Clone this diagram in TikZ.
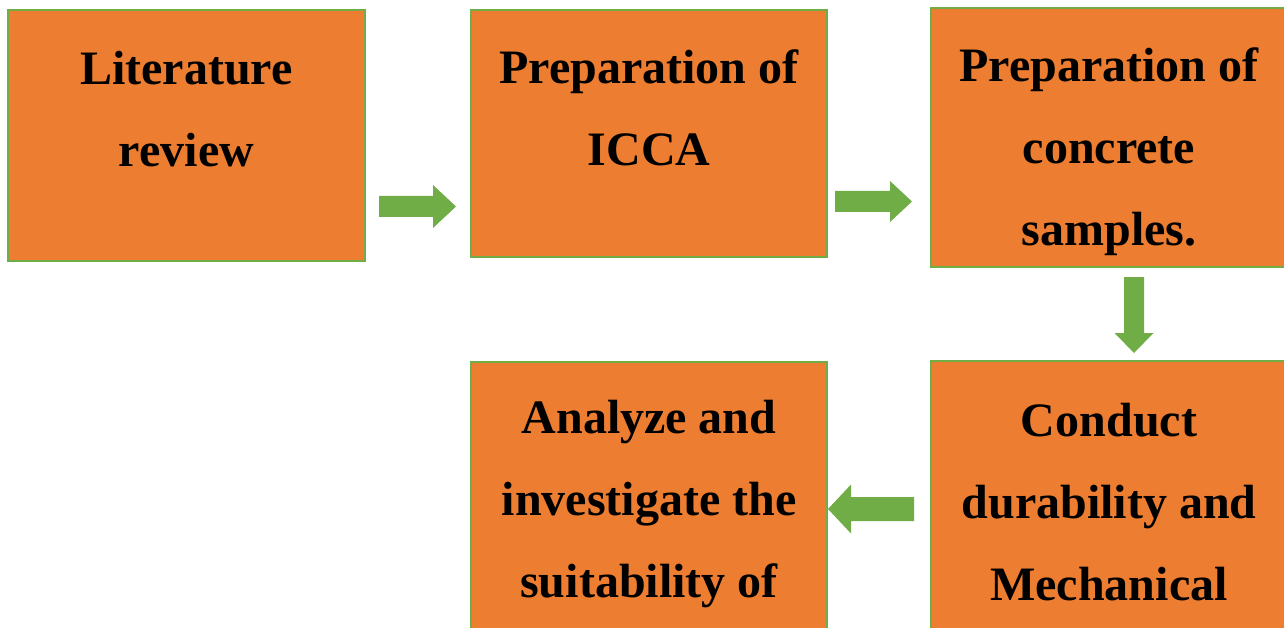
\documentclass[tikz,border=0pt]{standalone}
\usepackage{fontspec}
\setmainfont{Liberation Serif}
\usetikzlibrary{positioning}

\definecolor{stageorange}{HTML}{ED7D31}
\definecolor{stagegreen}{HTML}{70AD47}

\tikzset{
    stage/.style={rectangle, fill=stageorange, draw=stagegreen, line width=1.5pt, inner sep=0pt},
    stagetext/.style={align=center, inner sep=0pt, anchor=north, font=\fontsize{48}{82}\selectfont\bfseries}
}

\begin{document}
\begin{tikzpicture}[x=1pt,y=-1pt]
        \clip (0,0) rectangle (1284,628);
        \fill[white] (0,0) rectangle (1284,628);
        % boxes
        \node[stage, minimum width=357pt, minimum height=251pt] (lit) at (186.5,135.5) {};
        \node[stage, minimum width=356pt, minimum height=247pt] (icca) at (649,133.5) {};
        \node[stage, minimum width=356pt, minimum height=259pt] (samples) at (1109,137.5) {};
        \node[stage, minimum width=356pt, minimum height=290pt] (tests) at (1109,506) {};
        \node[stage, minimum width=356pt, minimum height=290pt] (analyze) at (649,507) {};
        % texts
        \node[stagetext, below=42pt of lit.north] (littext) {Literature\\review};
        \node[stagetext, below=40pt of icca.north] (iccatext) {Preparation of\\ICCA};
        \node[stagetext, below=40pt of samples.north] (samplestext) {Preparation of\\concrete\\samples.};
        \node[stagetext, below=43pt of tests.north] (teststext) {Conduct\\durability and\\Mechanical};
        \node[stagetext, below=39pt of analyze.north] (analyzetext) {Analyze and\\investigate the\\suitability of};
        % block arrows
        \foreach \px/\py/\ang/\len/\sh/\sw/\hw in {379/206.5/0/77/54/10.5/21.5,
                835/201.5/0/77/55/10.5/20.5,
                1134/277/-90/76/56/10/19.5,
                914/509/180/86/63/12/24.5}{
        \begin{scope}[shift={(\px,\py)}, rotate=\ang]
            \fill[stagegreen] (0,-\sw) -- (\sh,-\sw) -- (\sh,-\hw) -- (\len,0) -- (\sh,\hw) -- (\sh,\sw) -- (0,\sw) -- cycle;
        \end{scope}
        }
\end{tikzpicture}
\end{document}
